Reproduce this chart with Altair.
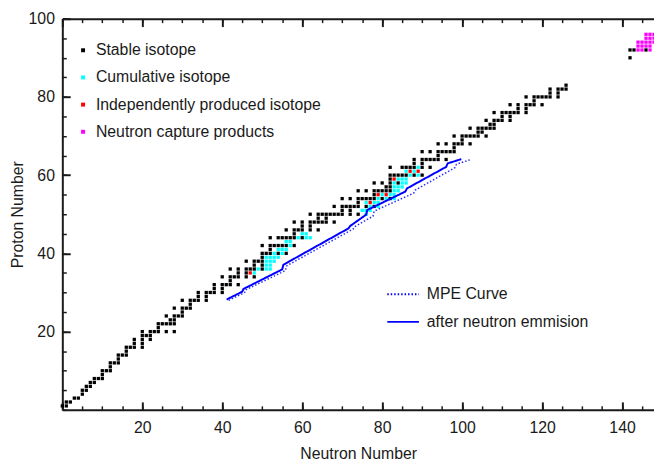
import altair as alt
import pandas as pd

# ---------------- data ----------------
# stable isotopes: proton number Z -> neutron numbers N
stable = {
    1: [0, 1], 2: [1, 2], 3: [3, 4], 4: [5], 5: [5, 6], 6: [6, 7], 7: [7, 8],
    8: [8, 9, 10], 9: [10], 10: [10, 11, 12], 11: [12], 12: [12, 13, 14], 13: [14],
    14: [14, 15, 16], 15: [16], 16: [16, 17, 18, 20], 17: [18, 20], 18: [18, 20, 22],
    19: [20, 21, 22], 20: [20, 22, 23, 24, 26, 28], 21: [24], 22: [24, 25, 26, 27, 28],
    23: [27, 28], 24: [26, 28, 29, 30], 25: [30], 26: [28, 30, 31, 32], 27: [32],
    28: [30, 32, 33, 34, 36], 29: [34, 36], 30: [34, 36, 37, 38, 40], 31: [38, 40],
    32: [38, 40, 41, 42, 44], 33: [42], 34: [40, 42, 43, 44, 46, 48], 35: [44, 46],
    36: [42, 44, 46, 47, 48, 50], 37: [48, 50], 38: [46, 48, 49, 50], 39: [50],
    40: [50, 51, 52, 54, 56], 41: [52], 42: [50, 52, 53, 54, 55, 56, 58],
    44: [52, 54, 55, 56, 57, 58, 60], 45: [58], 46: [56, 58, 59, 60, 62, 64],
    47: [60, 62], 48: [58, 60, 62, 63, 64, 65, 66, 68], 49: [64, 66],
    50: [62, 64, 65, 66, 67, 68, 69, 70, 72, 74], 51: [70, 72],
    52: [68, 70, 71, 72, 73, 74, 76, 78], 53: [74], 54: [70, 72, 74, 75, 76, 77, 78, 80, 82],
    55: [78], 56: [74, 76, 78, 79, 80, 81, 82], 57: [81, 82], 58: [78, 80, 82, 84], 59: [82],
    60: [82, 83, 84, 85, 86, 88, 90], 62: [82, 85, 86, 87, 88, 90, 92], 63: [88, 90],
    64: [88, 90, 91, 92, 93, 94, 96], 65: [94], 66: [90, 92, 94, 95, 96, 97, 98], 67: [98],
    68: [94, 96, 98, 99, 100, 102], 69: [100], 70: [98, 100, 101, 102, 103, 104, 106],
    71: [104, 105], 72: [102, 104, 105, 106, 107, 108], 73: [107, 108],
    74: [106, 108, 109, 110, 112], 75: [110, 112], 76: [108, 110, 111, 112, 113, 114, 116],
    77: [114, 116], 78: [112, 114, 116, 117, 118, 120], 79: [118],
    80: [116, 118, 119, 120, 121, 122, 124], 81: [122, 124], 82: [122, 124, 125, 126],
    83: [126], 90: [142], 92: [142, 143, 146],
}
cumulative = {
    35: [48], 36: [49, 51, 52], 37: [51, 52], 38: [51, 52, 53], 39: [51, 52, 53, 54],
    40: [53, 55], 41: [54, 55, 56], 42: [57], 43: [56, 57], 44: [59, 61, 62], 45: [60, 61],
    50: [76], 51: [75, 76, 77], 52: [77, 79], 53: [76, 78, 79], 54: [79, 81, 83],
    55: [80, 82, 83], 56: [83, 84], 57: [83, 84, 85], 58: [83, 85, 86], 59: [84, 85, 86],
    60: [87, 89], 61: [86, 88], 62: [89],
}
independent = {35: [47], 53: [77], 55: [79, 81], 59: [83], 61: [87, 89]}
capture = {
    92: [144, 145, 147], 93: [144, 145, 146, 147], 94: [144, 145, 146, 147, 148],
    95: [146, 147, 148], 96: [146, 147, 148],
}
type_names = ["Stable isotope", "Cumulative isotope",
              "Independently produced isotope", "Neutron capture products"]
type_colors = ["#000000", "#00ffff", "#ff0000", "#ff00ff"]

# curves (N, Z)
after_N = [41.1, 45.0, 45.3, 55.0, 55.3, 71.6, 72.0, 76.0, 76.3, 85.8, 86.2, 96.0, 96.4, 99.8]
after_Z = [28.2, 30.2, 30.9, 35.9, 37.1, 46.4, 47.0, 49.9, 51.1, 55.8, 56.6, 62.1, 63.0, 64.1]
mpe_N = [41.6, 45.6, 45.9, 55.8, 56.1, 72.7, 73.1, 77.7, 78.0, 87.9, 88.3, 98.2, 98.6, 102.2]
mpe_Z = [28.0, 30.0, 30.7, 35.6, 36.8, 46.2, 46.8, 49.5, 50.8, 55.4, 56.2, 61.9, 62.8, 64.0]
curve_names = ["MPE Curve", "after neutron emmision"]

x_major = [20, 40, 60, 80, 100, 120, 140]
x_minor = list(range(0, 150, 5))
y_major = [20, 40, 60, 80, 100]
y_minor = list(range(0, 101, 5))

# ---------------- tables ----------------
def table(d, name):
    return pd.DataFrame([{"N": n, "Z": z, "type": name} for z, ns in d.items() for n in ns])

stable_df = table(stable, type_names[0])
fission_df = pd.concat([table(cumulative, type_names[1]), table(independent, type_names[2])])
capture_df = table(capture, type_names[3])
after_df = pd.DataFrame({"N": after_N, "Z": after_Z, "series": curve_names[1]})
mpe_df = pd.DataFrame({"N": mpe_N, "Z": mpe_Z, "series": curve_names[0]})

# ---------------- styling ----------------
FONT = "Liberation Sans"
FS = 16
INK = "#1a1a1a"
W, H = 599, 396
x_sc = alt.Scale(domain=[0, 148], nice=False, zero=False)
y_sc = alt.Scale(domain=[0, 100], nice=False, zero=False)


def tick_axis(orient, offset, values, size, width, domain=False):
    return alt.Axis(orient=orient, offset=offset, values=values, tickSize=size,
                    tickWidth=width, tickColor=INK, labels=False, domain=domain,
                    domainColor=INK, domainWidth=2, grid=False)


bottom_axis = alt.Axis(orient="bottom", values=x_major, ticks=False, domain=True,
                       domainColor=INK, domainWidth=2, grid=False, labelPadding=10,
                       labelFont=FONT, labelFontSize=FS, labelColor=INK,
                       title="Neutron Number", titleFont=FONT, titleFontSize=FS,
                       titleFontWeight="normal", titleColor=INK, titlePadding=10)
left_axis = alt.Axis(orient="left", values=y_major, ticks=False, domain=True,
                     domainColor=INK, domainWidth=2, grid=False, labelPadding=8,
                     labelFont=FONT, labelFontSize=FS, labelColor=INK,
                     title="Proton Number", titleFont=FONT, titleFontSize=FS,
                     titleFontWeight="normal", titleColor=INK, titlePadding=3)

point_legend = alt.Legend(title=None, orient="none", legendX=13, legendY=24,
                          symbolType="square", symbolSize=16, symbolStrokeWidth=0,
                          labelFont=FONT, labelFontSize=FS, labelColor=INK, labelLimit=0,
                          labelOffset=5, rowPadding=11.5, padding=0)
curve_legend = alt.Legend(title=None, orient="none", legendX=328, legendY=262,
                          symbolType="stroke", symbolSize=1024, symbolStrokeColor="#0000ff",
                          symbolStrokeWidth=1.8, labelFont=FONT, labelFontSize=FS,
                          labelColor=INK, labelLimit=0, labelOffset=7, rowPadding=3,
                          padding=0)

color_enc = alt.Color("type:N", scale=alt.Scale(domain=type_names, range=type_colors),
                      legend=point_legend)
dash_enc = alt.StrokeDash("series:N",
                          scale=alt.Scale(domain=curve_names, range=[[1.5, 2], [1, 0]]),
                          legend=curve_legend)

stable_layer = alt.Chart(stable_df).mark_square(size=11, opacity=1).encode(
    x=alt.X("N:Q", scale=x_sc, axis=bottom_axis),
    y=alt.Y("Z:Q", scale=y_sc, axis=left_axis),
    color=color_enc,
)
fission_layer = alt.Chart(fission_df).mark_square(size=11, opacity=1).encode(
    x=alt.X("N:Q", scale=x_sc, title=None, axis=tick_axis("top", -H, x_minor[::4], 8, 2)),
    y=alt.Y("Z:Q", scale=y_sc, title=None, axis=tick_axis("right", -W, y_major, 8, 2)),
    color=color_enc,
)
capture_layer = alt.Chart(capture_df).mark_square(size=11, opacity=1).encode(
    x=alt.X("N:Q", scale=x_sc, title=None, axis=tick_axis("top", -H, x_minor, 4, 1.5)),
    y=alt.Y("Z:Q", scale=y_sc, title=None, axis=tick_axis("right", -W, y_minor, 4, 1.5)),
    color=color_enc,
)
after_layer = alt.Chart(after_df).mark_line(color="#0000ff", strokeWidth=2).encode(
    x=alt.X("N:Q", scale=x_sc, title=None,
            axis=tick_axis("bottom", -H, x_minor[::4], 8, 2, domain=True)),
    y=alt.Y("Z:Q", scale=y_sc, axis=None),
    strokeDash=dash_enc,
)
mpe_layer = alt.Chart(mpe_df).mark_line(color="#2a2aff", strokeWidth=1.5).encode(
    x=alt.X("N:Q", scale=x_sc, title=None, axis=tick_axis("bottom", -H, x_minor, 4, 1.5)),
    y=alt.Y("Z:Q", scale=y_sc, axis=None),
    strokeDash=dash_enc,
)

chart = (
    alt.layer(stable_layer, fission_layer, capture_layer, after_layer, mpe_layer)
    .resolve_axis(x="independent", y="independent")
    .properties(width=W, height=H,
                padding={"left": 55, "top": 8, "right": 0, "bottom": 49},
                autosize=alt.AutoSizeParams(type="none"), background="white")
    .configure_view(strokeWidth=0)
)

chart.save("out.html", embed_options={"renderer": "svg", "actions": False})
